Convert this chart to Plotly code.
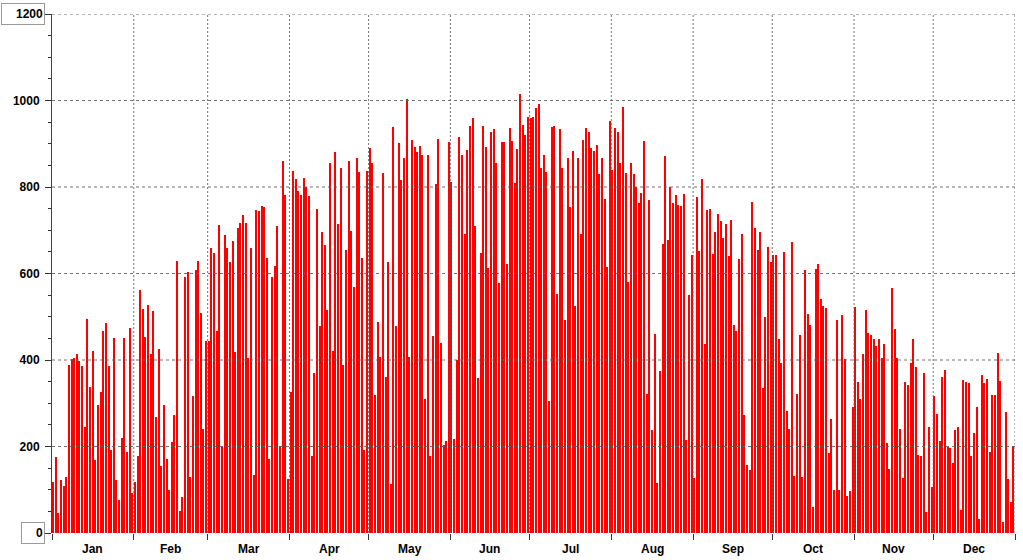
import plotly.graph_objects as go

months = ["Jan", "Feb", "Mar", "Apr", "May", "Jun", "Jul", "Aug", "Sep", "Oct", "Nov", "Dec"]
month_days = [31, 28, 31, 30, 31, 30, 31, 31, 30, 31, 30, 31]

# daily peak values (W/m2)
jan = [117,175,46,123,108,130,388,403,405,415,398,385,246,495,338,420,169,297,326,466,486,385,192,450,123,77,219,451,188,473,92]
feb = [119,177,561,518,453,528,415,513,269,426,154,297,170,100,211,273,630,50,84,593,603,130,316,607,628,509,240,445]
mar = [445,660,648,468,712,201,689,658,627,675,419,706,716,735,717,405,658,134,746,745,756,753,635,170,591,617,710,201,859,781,124]
apr = [326,836,819,790,782,821,800,779,178,370,748,479,697,666,515,856,420,882,714,845,389,654,859,698,568,868,834,635,192,836]
may = [891,856,318,488,406,833,360,626,114,939,479,902,816,866,1003,406,908,892,881,894,875,310,873,178,455,806,912,439,204,213,904]
jun = [812,217,399,915,873,691,885,942,959,710,359,648,942,892,612,927,935,855,578,904,903,621,936,906,810,889,1014,944,921,961]
jul = [960,963,982,992,845,873,835,305,939,942,552,933,845,493,868,754,883,524,868,691,908,937,927,891,883,896,829,868,773,616,952]
aug = [839,936,927,855,985,833,581,856,829,799,762,785,906,322,770,238,459,115,374,668,872,677,800,764,781,758,757,783,215,551,643]
sep = [127,777,651,819,436,746,749,644,695,737,722,682,714,641,723,480,467,634,691,273,157,146,766,705,655,697,336,499,662,626]
oct_ = [643,643,449,393,649,282,240,672,131,321,458,129,609,507,480,61,611,621,540,524,521,184,263,100,492,100,505,402,86,96,292]
nov = [522,349,309,414,516,462,458,449,432,449,405,438,209,147,566,472,405,241,128,349,343,393,449,383,180,177,370,48,246,107]
dec = [316,276,212,360,376,198,196,163,238,246,53,353,349,346,178,232,292,32,366,346,357,188,320,320,416,351,25,280,126,71,201]

y_ticks = [0, 200, 400, 600, 800, 1000, 1200]

values = jan + feb + mar + apr + may + jun + jul + aug + sep + oct_ + nov + dec
days = [i + 0.5 for i in range(len(values))]

bounds = [0]
for d in month_days:
    bounds.append(bounds[-1] + d)
mids = [(bounds[i] + bounds[i + 1]) / 2 for i in range(12)]

fig = go.Figure()
fig.add_trace(go.Bar(x=days, y=values, width=0.55,
                     marker=dict(color="#ff0000", line=dict(width=0))))

font_lbl = dict(family="Liberation Sans, Arial, sans-serif", size=12, color="black", weight="bold")

fig.update_layout(
    width=1023, height=560,
    margin=dict(l=52, r=8, t=14, b=27),
    paper_bgcolor="white", plot_bgcolor="white",
    showlegend=False, bargap=0,
    xaxis=dict(range=[0, 365], tickvals=bounds, ticktext=[""] * len(bounds),
               ticks="outside", ticklen=6, tickcolor="#333", showline=False,
               showgrid=False, zeroline=False, fixedrange=True),
    yaxis=dict(range=[0, 1200], tickvals=y_ticks,
               ticktext=[""] + [str(v) for v in y_ticks[1:-1]] + [""],
               ticks="outside", ticklen=6, tickcolor="#333", ticklabelstandoff=3,
               minor=dict(dtick=50, ticks="outside", ticklen=3, tickcolor="#333", showgrid=False),
               showline=True, linecolor="#444", linewidth=1, layer="above traces",
               showgrid=False, zeroline=False, tickfont=font_lbl, fixedrange=True),
)

# grid drawn above the bars, as in the reference
shapes = []
for yv in y_ticks[1:]:
    shapes.append(dict(type="line", xref="paper", x0=0, x1=1, yref="y", y0=yv, y1=yv,
                       line=dict(color="rgba(90,90,90,0.85)", width=1, dash="3px,3px"), layer="above"))
for xv in bounds[1:]:
    shapes.append(dict(type="line", xref="x", x0=xv, x1=xv, yref="paper", y0=0, y1=1,
                       line=dict(color="rgba(90,90,90,0.85)", width=1, dash="2px,2px"), layer="above"))
fig.update_layout(shapes=shapes)

annotations = []
for m, xm in zip(months, mids):
    annotations.append(dict(x=xm, xref="x", y=0, yref="paper", yanchor="top", yshift=-7,
                            text=m, showarrow=False, font=font_lbl))
annotations.append(dict(x=0, xref="paper", xanchor="right", xshift=-7, y=1200, yref="y",
                        text="1200", showarrow=False, font=font_lbl, align="right",
                        width=40, height=18, bordercolor="#999", borderwidth=1, borderpad=1,
                        bgcolor="white"))
annotations.append(dict(x=0, xref="paper", xanchor="right", xshift=-7, y=0, yref="y",
                        text="0", showarrow=False, font=font_lbl, align="right",
                        width=20, height=18, bordercolor="#999", borderwidth=1, borderpad=1,
                        bgcolor="white"))
fig.update_layout(annotations=annotations)

fig.write_html("out.html", config={"displayModeBar": False},
               post_script="document.body.style.margin='0';")
